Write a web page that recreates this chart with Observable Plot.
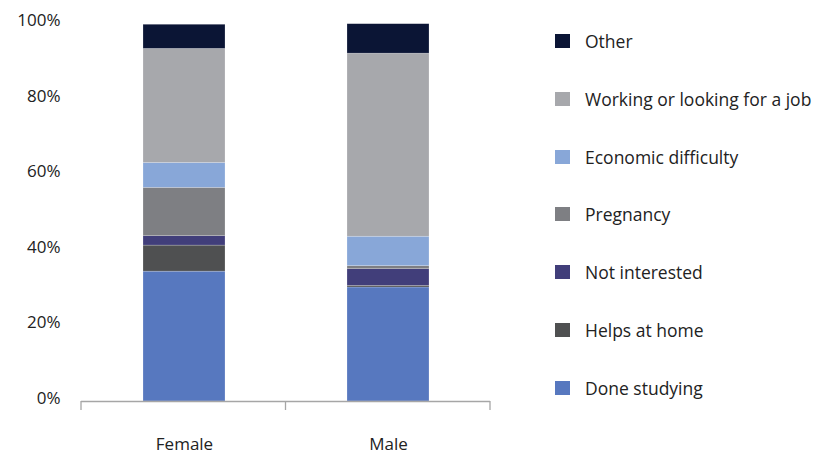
<!DOCTYPE html>
<html>
<head>
<meta charset="utf-8">
<script src="https://cdn.jsdelivr.net/npm/d3@7"></script>
<script src="https://cdn.jsdelivr.net/npm/@observablehq/plot@0.6"></script>
<style>
  html, body { margin: 0; padding: 0; background: #fff; }
  #wrap { position: relative; width: 815px; height: 455px; font-family: "Open Sans", sans-serif; }
  #legend { position: absolute; left: 555px; top: 0; }
  .item { position: absolute; left: 0; display: flex; align-items: center; white-space: nowrap; font-size: 17.5px; font-weight: 500; color: #222; }
  .sw { width: 15px; height: 14px; margin-right: 15px; flex: none; }
</style>
</head>
<body>
<div id="wrap"><div id="chart"></div><div id="legend"></div></div>
<script>
const categories = ["Female", "Male"];
const series = ["Done studying", "Helps at home", "Not interested", "Pregnancy", "Economic difficulty", "Working or looking for a job", "Other"];
const female = [34.4, 6.9, 2.5, 12.8, 6.6, 30.2, 6.4];
const male = [30.2, 0.45, 4.4, 0.8, 7.8, 48.5, 7.8];
const colors = ["#5778bf", "#4f5051", "#413e7a", "#7e7f83", "#88a7d8", "#a7a8ac", "#0b1535"];
const yTicks = [0, 0.2, 0.4, 0.6, 0.8, 1];

const values = {Female: female, Male: male};
const data = categories.flatMap(c => series.map((s, i) => ({category: c, series: s, value: values[c][i] / 100})));

const W = 815, H = 455;
const plot = Plot.plot({
  width: W, height: H,
  marginLeft: 81, marginRight: 325, marginTop: 23.5, marginBottom: 54,
  style: {fontFamily: "'Open Sans', sans-serif", fontSize: "17px", fontWeight: 500, color: "#222", background: "transparent"},
  x: {domain: categories, padding: 0, label: null},
  y: {domain: [0, 1], label: null},
  color: {domain: series, range: colors},
  marks: [
    Plot.barY(data, {x: "category", y: "value", fill: "series", order: series, insetLeft: 61, insetRight: 61,
      stroke: "white", strokeOpacity: 0.35, strokeWidth: 0.6}),
    Plot.ruleY([0], {stroke: "#a6a6a6", strokeWidth: 1.3}),
    Plot.axisY({ticks: yTicks, tickFormat: d3.format(".0%"), tickSize: 0, tickPadding: 21, dy: -3, fontSize: 17}),
    Plot.axisX({tickSize: 0, tickPadding: 36, fontSize: 17})
  ]
});
document.getElementById("chart").appendChild(plot);

// band-edge ticks below the baseline, from the plot's own scales
const xs = plot.scale("x"), ys = plot.scale("y");
const xf = d3.scaleBand().domain(xs.domain).range(xs.range).padding(0);
const yf = d3.scaleLinear().domain(ys.domain).range(ys.range);
const edges = [...new Set(categories.flatMap(c => [xf(c), xf(c) + xf.bandwidth()]))];
const svg = d3.select(plot);
svg.append("g").selectAll("line").data(edges).join("line")
  .attr("x1", d => d).attr("x2", d => d)
  .attr("y1", yf(0)).attr("y2", yf(0) + 9)
  .attr("stroke", "#a6a6a6").attr("stroke-width", 1.3);

// legend (top to bottom = reverse stack order)
const legend = d3.select("#legend");
const rows = series.slice().reverse();
rows.forEach((s, i) => {
  const item = legend.append("div").attr("class", "item").style("top", (29 + i * 57.8) + "px");
  item.append("div").attr("class", "sw").style("background", colors[series.indexOf(s)]);
  item.append("span").text(s);
});
</script>
</body>
</html>
